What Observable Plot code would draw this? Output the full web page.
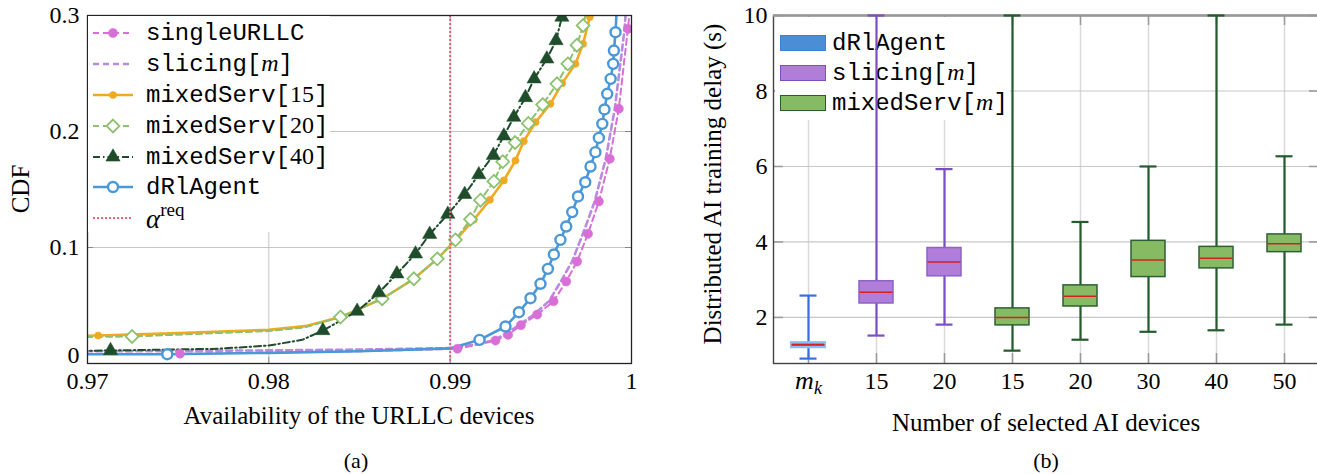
<!DOCTYPE html>
<html><head><meta charset="utf-8">
<script src="https://cdn.jsdelivr.net/npm/d3@7"></script>
<script src="https://cdn.jsdelivr.net/npm/@observablehq/plot@0.6"></script>
<style>
body{margin:0;background:#fff}
#root{position:relative;width:1317px;height:474px;overflow:hidden;background:#fff;font-family:'Liberation Serif','Times New Roman',serif;color:#000}
.abs{position:absolute}
.mono{font-family:'Liberation Mono','Courier New',monospace}
.serif{font-family:'Liberation Serif','Times New Roman',serif}
.title{font-size:25px;white-space:nowrap;line-height:1}
.legrow{display:flex;align-items:center;white-space:nowrap;font-size:24px}
</style>
</head><body><div id="root"></div><script>
// ---------------- data (a) ----------------
const aXTicks = [0.97, 0.98, 0.99, 1];
const aYTicks = [0, 0.1, 0.2, 0.3];
const aGridX = [0.98, 0.99];
const aGridY = [0.1, 0.2];
const alphaReq = 0.99;
// [availability, CDF, marker?]
const singleURLLC = [[0.9600,0.0075,0],[0.9751,0.0085,1],[0.9800,0.0094,0],[0.9850,0.0106,0],[0.9904,0.0127,1],[0.9925,0.0198,1],[0.9932,0.0247,1],[0.9939,0.0330,1],[0.9948,0.0422,1],[0.9957,0.0537,1],[0.9964,0.0707,1],[0.9970,0.0879,1],[0.9976,0.1118,1],[0.9982,0.1397,1],[0.9988,0.1765,1],[0.9993,0.2196,1],[0.9998,0.2885,1],[1.0001,0.3300,0]];
const slicing = [[0.9600,0.0100,0],[0.9700,0.0105,0],[0.9800,0.0113,0],[0.9850,0.0120,0],[0.9900,0.0133,0],[0.9915,0.0165,0],[0.9925,0.0205,0],[0.9935,0.0300,0],[0.9946,0.0420,0],[0.99545,0.0537,0],[0.9961,0.0707,0],[0.99672,0.0879,0],[0.99732,0.1118,0],[0.99797,0.1397,0],[0.99858,0.1765,0],[0.99908,0.2196,0],[0.99962,0.2885,0],[0.9998,0.3300,0]];
const mixed15 = [[0.9600,0.0220,0],[0.97059,0.0241,1],[0.9750,0.0262,0],[0.9800,0.0290,0],[0.9820,0.0322,0],[0.98395,0.0400,1],[0.98625,0.0558,1],[0.98800,0.0730,1],[0.98929,0.0902,1],[0.99029,0.1062,1],[0.99130,0.1239,1],[0.99219,0.1411,1],[0.99296,0.1578,1],[0.99360,0.1750,1],[0.99406,0.1917,1],[0.99471,0.2080,1],[0.99553,0.2239,1],[0.99618,0.2417,1],[0.99691,0.2583,1],[0.99733,0.2756,1],[0.99770,0.2986,1],[0.99800,0.3200,0]];
const mixed20 = [[0.9600,0.0210,0],[0.97246,0.0233,1],[0.9800,0.0280,0],[0.9820,0.0312,0],[0.98395,0.0400,1],[0.98625,0.0558,1],[0.98800,0.0730,1],[0.98929,0.0902,1],[0.99029,0.1066,1],[0.99112,0.1243,1],[0.99167,0.1408,1],[0.99241,0.1570,1],[0.99290,0.1740,1],[0.99358,0.1905,1],[0.99431,0.2070,1],[0.99510,0.2232,1],[0.99589,0.2411,1],[0.99649,0.2583,1],[0.99699,0.2744,1],[0.99733,0.2914,1],[0.99760,0.3100,0]];
const mixed40 = [[0.9600,0.0095,0],[0.97127,0.0112,1],[0.9772,0.0127,0],[0.9800,0.0155,0],[0.98184,0.0204,0],[0.98298,0.0284,1],[0.98487,0.0451,1],[0.98607,0.0610,1],[0.98706,0.0773,1],[0.98809,0.0945,1],[0.98887,0.1114,1],[0.98987,0.1287,1],[0.99080,0.1458,1],[0.99158,0.1628,1],[0.99238,0.1795,1],[0.99296,0.1962,1],[0.99351,0.2123,1],[0.99415,0.2293,1],[0.99463,0.2454,1],[0.99533,0.2626,1],[0.99584,0.2784,1],[0.99616,0.2986,1],[0.99660,0.3160,0]];
const dRlAgentCdf = [[0.9600,0.0078,0],[0.97440,0.0080,1],[0.9800,0.0092,0],[0.9850,0.0105,0],[0.9900,0.0130,0],[0.99162,0.0204,1],[0.99305,0.0319,1],[0.99379,0.0442,1],[0.99443,0.0563,1],[0.99498,0.0687,1],[0.99539,0.0816,1],[0.99572,0.0940,1],[0.99608,0.1066,1],[0.99640,0.1181,1],[0.99673,0.1305,1],[0.99705,0.1440,1],[0.99745,0.1563,1],[0.99774,0.1698,1],[0.99801,0.1822,1],[0.99820,0.1945,1],[0.99839,0.2066,1],[0.99851,0.2190,1],[0.99866,0.2325,1],[0.99885,0.2454,1],[0.99899,0.2583,1],[0.99903,0.2698,1],[0.99912,0.2856,1],[0.99920,0.3100,0]];

// ---------------- data (b) ----------------
const bKeys   = ["mk","s15","s20","x15","x20","x30","x40","x50"];
const bLabels = ["mk","15","20","15","20","30","40","50"];
const bGroup  = ["dRlAgent","slicing","slicing","mixedServ","mixedServ","mixedServ","mixedServ","mixedServ"];
const bLow    = [0.91, 1.52, 1.81, 1.12, 1.41, 1.62, 1.66, 1.81];
const bQ1     = [1.20, 2.37, 3.09, 1.79, 2.29, 3.07, 3.30, 3.73];
const bMedian = [1.28, 2.67, 3.47, 2.00, 2.56, 3.52, 3.57, 3.95];
const bQ3     = [1.33, 2.96, 3.84, 2.24, 2.85, 4.03, 3.87, 4.20];
const bHigh   = [2.58, 10.0, 5.93, 10.0, 4.53, 6.00, 10.0, 6.27];
const bYTicks = [2, 4, 6, 8, 10];
const bYDomain = [0.78, 10];

// ---------------- styles ----------------
const seriesA = [
  {data: slicing, color: "#b98ae2", width: 2.6, dash: "6,4", symbol: null},
  {data: singleURLLC, color: "#d86fd6", width: 2, dash: "6,4", symbol: "circle", r: 4.6, fill: "#d86fd6"},
  {data: dRlAgentCdf, color: "#4a98d8", width: 2.6, dash: null, symbol: "circle", r: 5, fill: "white", sw: 2.4},
  {data: mixed15, color: "#f0aa22", width: 2.6, dash: null, symbol: "circle", r: 3.6, fill: "#f0aa22"},
  {data: mixed20, color: "#8cc170", width: 2, dash: "6,4", symbol: "diamond2", r: 5.8, fill: "white", sw: 1.8},
  {data: mixed40, color: "#1f4d2b", width: 2, dash: "7,3,1.5,3", symbol: "triangle", r: 5.3, fill: "#1f4d2b"}
];
const groupStyle = {
  dRlAgent: {fill: "#4a8fd6", stroke: "#8fbdee", whisker: "#3a6ee0", sw: 2.2},
  slicing: {fill: "#b07ed8", stroke: "#8e62c8", whisker: "#7b4fbf", sw: 1.5},
  mixedServ: {fill: "#86bb64", stroke: "#2e6035", whisker: "#255c2e", sw: 1.5}
};

const root = document.getElementById("root");
const FONT = "'Liberation Serif','Times New Roman',serif";
const W = 660, H = 474, MT = 15, MB = 111;

// ---------------- chart (a) ----------------
const aML = 87, aMR = 29;
const aInW = W - aML - aMR, aInH = H - MT - MB;
const rows = s => s.data.map(([x, y, m]) => ({x, y, m}));
const marksA = [
  Plot.ruleX(aGridX, {stroke: "#c4c4c4", strokeWidth: 1}),
  Plot.ruleY(aGridY, {stroke: "#c4c4c4", strokeWidth: 1}),
  Plot.tickX(aGridX, {x: d => d, stroke: "#888", insetTop: aInH - 6}),
  Plot.tickX(aGridX, {x: d => d, stroke: "#888", insetBottom: aInH - 6}),
  Plot.tickY(aGridY, {y: d => d, stroke: "#888", insetRight: aInW - 6}),
  Plot.tickY(aGridY, {y: d => d, stroke: "#888", insetLeft: aInW - 6})
];
for (const s of seriesA) {
  marksA.push(Plot.line(rows(s), {x: "x", y: "y", stroke: s.color, strokeWidth: s.width, strokeDasharray: s.dash, clip: true}));
}
for (const s of seriesA) {
  if (!s.symbol) continue;
  marksA.push(Plot.dot(rows(s).filter(d => d.m), {x: "x", y: "y", symbol: s.symbol, r: s.r, fill: s.fill, stroke: s.color, strokeWidth: s.sw || 0.5, clip: true}));
}
marksA.push(
  Plot.ruleX([alphaReq], {stroke: "#f25d7e", strokeWidth: 2, strokeDasharray: "2,2"}),
  Plot.frame({stroke: "#222", strokeWidth: 1.3}),
  Plot.axisX({ticks: aXTicks, tickFormat: d => d === 1 ? "1" : d.toFixed(2), tickSize: 0, tickPadding: 8, label: null}),
  Plot.axisY({ticks: aYTicks, tickFormat: d => d === 0 ? "0" : d.toFixed(1), tickSize: 0, tickPadding: 8, label: null})
);
const plotA = Plot.plot({
  width: W, height: H, marginLeft: aML, marginRight: aMR, marginTop: MT, marginBottom: MB,
  style: {fontFamily: FONT, fontSize: "24px", background: "transparent", maxWidth: "none", overflow: "visible", color: "#000"},
  x: {domain: [0.97, 1]}, y: {domain: [0, 0.3]},
  marks: marksA
});
// raise the "0" label of the CDF axis as in the original
d3.select(plotA).selectAll('g[aria-label="y-axis tick label"] text').each(function() {
  if (this.textContent === "0") {
    const tr = this.getAttribute("transform") || "";
    this.setAttribute("transform", tr + " translate(0,-8)");
  }
});
const wrapA = document.createElement("div");
wrapA.className = "abs"; wrapA.style.cssText = `left:0;top:0;width:${W}px;height:${H}px`;
wrapA.appendChild(plotA); root.appendChild(wrapA);

// legend (a)
const legA = [
  {html: 'singleURLLC', s: seriesA[1]},
  {html: 'slicing[<i class="serif">m</i>]', s: seriesA[0]},
  {html: 'mixedServ[<span class="serif">15</span>]', s: seriesA[3]},
  {html: 'mixedServ[<span class="serif">20</span>]', s: seriesA[4]},
  {html: 'mixedServ[<span class="serif">40</span>]', s: seriesA[5]},
  {html: 'dRlAgent', s: seriesA[2]},
  {html: '<i class="serif" style="font-size:27px">α</i><sup class="serif" style="font-size:19px;position:relative;top:-3px">req</sup>', s: {color: "#f25d7e", width: 2, dash: "2,2", symbol: null}}
];
const legDivA = document.createElement("div");
legDivA.className = "abs";
legDivA.style.cssText = "left:88px;top:16px;width:242px;height:216px;background:#fff;padding-top:2px;box-sizing:border-box";
const symMap = {circle: d3.symbolCircle, diamond2: d3.symbolDiamond2, triangle: d3.symbolTriangle};
legA.forEach((e, i) => {
  const row = document.createElement("div");
  row.className = "legrow mono"; row.style.height = "30.8px";
  const svg = d3.create("svg").attr("width", 50).attr("height", 30).style("flex", "none");
  svg.append("line").attr("x1", 5).attr("x2", 45).attr("y1", 15).attr("y2", 15)
    .attr("stroke", e.s.color).attr("stroke-width", e.s.width).attr("stroke-dasharray", e.s.dash);
  if (e.s.symbol) {
    svg.append("path").attr("transform", "translate(25,15)")
      .attr("d", d3.symbol(symMap[e.s.symbol], Math.PI * e.s.r * e.s.r)())
      .attr("fill", e.s.fill).attr("stroke", e.s.color).attr("stroke-width", e.s.sw || 0.5);
  }
  row.appendChild(svg.node());
  const t = document.createElement("span");
  t.style.marginLeft = "8px"; t.innerHTML = e.html;
  row.appendChild(t);
  legDivA.appendChild(row);
});
root.appendChild(legDivA);

// ---------------- chart (b) ----------------
const bML = 113, bMR = 1;
const bInW = W - bML - bMR, bInH = H - MT - MB;
const boxes = bKeys.map((key, i) => ({key, label: bLabels[i], group: bGroup[i], lo: bLow[i], q1: bQ1[i], med: bMedian[i], q3: bQ3[i], hi: bHigh[i]}));
const xB = {type: "band", domain: bKeys, padding: 0};
const yB = {domain: bYDomain};
const styleB = {fontFamily: FONT, fontSize: "24px", background: "transparent", maxWidth: "none", overflow: "visible", color: "#000"};

const plotB1 = Plot.plot({
  width: W, height: H, marginLeft: bML, marginRight: bMR, marginTop: MT, marginBottom: MB,
  style: styleB, x: xB, y: yB,
  marks: [
    Plot.ruleX(bKeys, {x: d => d, stroke: "#dadada", strokeWidth: 1.5}),
    Plot.ruleY(bYTicks.slice(0, -1), {stroke: "#c8c8c8", strokeWidth: 1.2}),
    Plot.tickX(bKeys, {x: d => d, stroke: "#999", strokeWidth: 1.5, insetTop: bInH - 10}),
    Plot.tickX(bKeys, {x: d => d, stroke: "#999", strokeWidth: 1.5, insetBottom: bInH - 10}),
    Plot.tickY(bYTicks, {y: d => d, stroke: "#999", strokeWidth: 1.5, insetRight: bInW - 10}),
    Plot.tickY(bYTicks, {y: d => d, stroke: "#999", strokeWidth: 1.5, insetLeft: bInW - 10}),
    Plot.frame({stroke: "#444", strokeWidth: 1.4}),
    Plot.axisX({tickSize: 0, tickPadding: 8, tickFormat: k => bLabels[bKeys.indexOf(k)], label: null}),
    Plot.axisY({ticks: bYTicks, tickSize: 0, tickPadding: 6, label: null})
  ]
});
d3.select(plotB1).selectAll('g[aria-label="x-axis tick label"] text').each(function() {
  if (this.textContent === "mk") {
    const t = d3.select(this); t.text(null);
    t.append("tspan").attr("font-style", "italic").attr("font-size", "26px").text("m");
    t.append("tspan").attr("font-style", "italic").attr("font-size", "18px").attr("dy", "5").text("k");
  }
});
const wrapB1 = document.createElement("div");
wrapB1.className = "abs"; wrapB1.style.cssText = `left:${W}px;top:0;width:${W}px;height:${H}px`;
wrapB1.appendChild(plotB1); root.appendChild(wrapB1);

// legend (b) – white box under the boxes
const legB = [
  {html: 'dRlAgent', g: "dRlAgent"},
  {html: 'slicing[<i class="serif">m</i>]', g: "slicing"},
  {html: 'mixedServ[<i class="serif">m</i>]', g: "mixedServ"}
];
const legDivB = document.createElement("div");
legDivB.className = "abs";
legDivB.style.cssText = "left:775px;top:17px;width:235px;height:103px;background:#fff;padding-top:11px;box-sizing:border-box";
for (const e of legB) {
  const st = groupStyle[e.g];
  const row = document.createElement("div");
  row.className = "legrow mono"; row.style.height = "30px";
  const sw = document.createElement("span");
  sw.style.cssText = `display:inline-block;flex:none;margin-left:5px;width:46px;height:16px;box-sizing:border-box;background:${st.fill};border:1.5px solid ${e.g === "dRlAgent" ? "#3f7fdc" : st.whisker}`;
  row.appendChild(sw);
  const t = document.createElement("span");
  t.style.marginLeft = "6px"; t.innerHTML = e.html;
  row.appendChild(t);
  legDivB.appendChild(row);
}
root.appendChild(legDivB);

const marksB = [Plot.ruleY([bYTicks[bYTicks.length - 1]], {stroke: "#999", strokeWidth: 2.5})];
for (const g of Object.keys(groupStyle)) {
  const st = groupStyle[g];
  const d = boxes.filter(b => b.group === g);
  marksB.push(
    Plot.ruleX(d, {x: "key", y1: "lo", y2: "hi", stroke: st.whisker, strokeWidth: 2.2}),
    Plot.tickY(d, {x: "key", y: "lo", stroke: st.whisker, strokeWidth: 2.2, insetLeft: 25.5, insetRight: 25.5}),
    Plot.tickY(d, {x: "key", y: "hi", stroke: st.whisker, strokeWidth: 2.2, insetLeft: 25.5, insetRight: 25.5}),
    Plot.barY(d, {x: "key", y1: "q1", y2: "q3", fill: st.fill, stroke: st.stroke, strokeWidth: st.sw, insetLeft: 17, insetRight: 17}),
    Plot.tickY(d, {x: "key", y: "med", stroke: "#d42020", strokeWidth: 1.5, insetLeft: 17.5, insetRight: 17.5})
  );
}
const plotB2 = Plot.plot({
  width: W, height: H, marginLeft: bML, marginRight: bMR, marginTop: MT, marginBottom: MB,
  style: styleB, x: {...xB, axis: null}, y: {...yB, axis: null},
  marks: marksB
});
const wrapB2 = document.createElement("div");
wrapB2.className = "abs"; wrapB2.style.cssText = `left:${W}px;top:0;width:${W}px;height:${H}px;pointer-events:none`;
wrapB2.appendChild(plotB2); root.appendChild(wrapB2);

// ---------------- titles ----------------
function addText(html, cx, cy, rotate, size) {
  const d = document.createElement("div");
  d.className = "abs title";
  d.style.cssText += `left:${cx}px;top:${cy}px;transform:translate(-50%,-50%)${rotate ? " rotate(-90deg)" : ""}` + (size ? `;font-size:${size}px` : "");
  d.innerHTML = html; root.appendChild(d);
}
addText("CDF", 20, 189, true);
addText("Availability of the URLLC devices", aML + aInW / 2, 415, false);
addText("(a)", 356, 461, false, 22);
addText("Distributed AI training delay (s)", 712, 184, true);
addText("Number of selected AI devices", W + bML + bInW / 2, 422, false);
addText("(b)", 1046, 461, false, 22);
</script></body></html>
